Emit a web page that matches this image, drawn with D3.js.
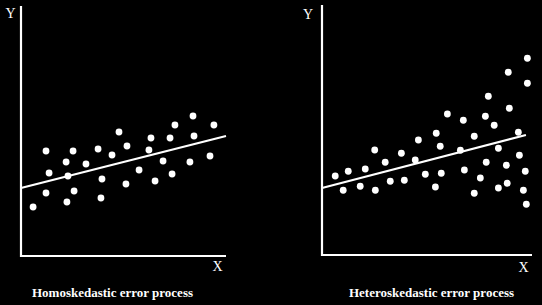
<!DOCTYPE html>
<html>
<head>
<meta charset="utf-8">
<script src="https://cdn.jsdelivr.net/npm/d3@7"></script>
<style>
    body { margin: 0; background: #000; }
    svg { display: block; }
    text { fill: #fff; font-family: "Liberation Serif", "DejaVu Serif", serif; }
</style>
</head>
<body>
<div id="chart"></div>
<script>
// values are in plot units: 0..100 on both axes
const homoX = [5.9, 12.2, 13.7, 12.2, 22.0, 22.9, 25.4, 25.9, 22.4, 31.7,
    37.6, 39.5, 39.0, 44.4, 47.8, 51.7, 51.2, 57.6, 62.4, 63.4,
    65.4, 69.3, 72.7, 73.7, 75.1, 82.4, 83.9, 84.4, 92.2, 94.1];
const homoY = [19.6, 42.0, 33.2, 25.2, 37.6, 32.0, 42.0, 26.0, 21.6, 36.8,
    42.8, 30.8, 23.2, 40.4, 49.6, 44.0, 28.8, 34.4, 42.4, 47.2,
    30.0, 38.0, 47.2, 32.8, 52.4, 37.6, 56.0, 48.0, 40.0, 52.4];

const heteroX = [6.3, 10.1, 12.5, 18.2, 20.6, 25.1, 25.4, 30.1, 32.5, 37.8,
    39.2, 44.4, 45.9, 49.2, 54.0, 54.4, 56.3, 56.8, 59.7, 65.9,
    67.3, 67.8, 72.5, 72.5, 75.4, 77.8, 78.2, 79.2, 82.0, 84.0,
    84.0, 87.8, 88.2, 88.7, 89.2, 93.5, 94.0, 95.9, 96.8, 97.3,
    97.8, 97.8];
const heteroY = [31.6, 25.9, 33.5, 27.5, 34.4, 42.0, 25.9, 37.1, 29.5, 40.7,
    29.9, 38.0, 46.0, 32.3, 27.2, 48.7, 43.5, 32.7, 56.4, 41.9,
    53.9, 34.0, 47.5, 24.7, 30.8, 55.5, 37.1, 63.5, 51.9, 42.7,
    26.8, 35.9, 28.7, 73.1, 58.7, 49.1, 39.9, 25.9, 33.5, 20.3,
    78.7, 68.7];

// fitted line end points [x0, y0, x1, y1]
const homoLine = [0, 27.2, 100, 48.0];
const heteroLine = [0, 26.8, 97.1, 48.0];

const titles = ["Homoskedastic error process", "Heteroskedastic error process"];

const width = 542, height = 305;

const svg = d3.select("#chart").append("svg")
    .attr("width", width)
    .attr("height", height);

svg.append("rect")
    .attr("width", width)
    .attr("height", height)
    .attr("fill", "#000");

// draw one panel: axes, dots, line and labels
function drawPanel(box, xs, ys, fit, title) {
    const x = d3.scaleLinear().domain([0, 100]).range([box.left, box.right]);
    const y = d3.scaleLinear().domain([0, 100]).range([box.bottom, box.top]);
    const g = svg.append("g");

    g.append("path")
        .attr("d", `M${x(0)},${y(100)}V${y(0)}H${x(100)}`)
        .attr("fill", "none")
        .attr("stroke", "#fff")
        .attr("stroke-width", 2.2);

    g.append("line")
        .attr("x1", x(fit[0])).attr("y1", y(fit[1]))
        .attr("x2", x(fit[2])).attr("y2", y(fit[3]))
        .attr("stroke", "#fff")
        .attr("stroke-width", 2.2);

    g.selectAll("circle")
        .data(d3.zip(xs, ys))
        .join("circle")
        .attr("cx", d => x(d[0]))
        .attr("cy", d => y(d[1]))
        .attr("r", 3.4)
        .attr("fill", "#fff");

    g.append("text")
        .attr("x", box.yLabel[0]).attr("y", box.yLabel[1])
        .attr("text-anchor", "middle")
        .style("font-size", "14px")
        .text("Y");

    g.append("text")
        .attr("x", box.xLabel[0]).attr("y", box.xLabel[1])
        .attr("text-anchor", "middle")
        .style("font-size", "14px")
        .text("X");

    g.append("text")
        .attr("x", box.titleX).attr("y", 297)
        .attr("text-anchor", "middle")
        .style("font-size", "13px")
        .style("font-weight", "bold")
        .text(title);
}

drawPanel({ left: 21, right: 226, top: 6, bottom: 256, yLabel: [10.5, 18], xLabel: [217.5, 271], titleX: 112.5 },
    homoX, homoY, homoLine, titles[0]);
drawPanel({ left: 322, right: 532, top: 5, bottom: 255, yLabel: [308, 19], xLabel: [523.5, 272], titleX: 431.5 },
    heteroX, heteroY, heteroLine, titles[1]);
</script>
</body>
</html>
